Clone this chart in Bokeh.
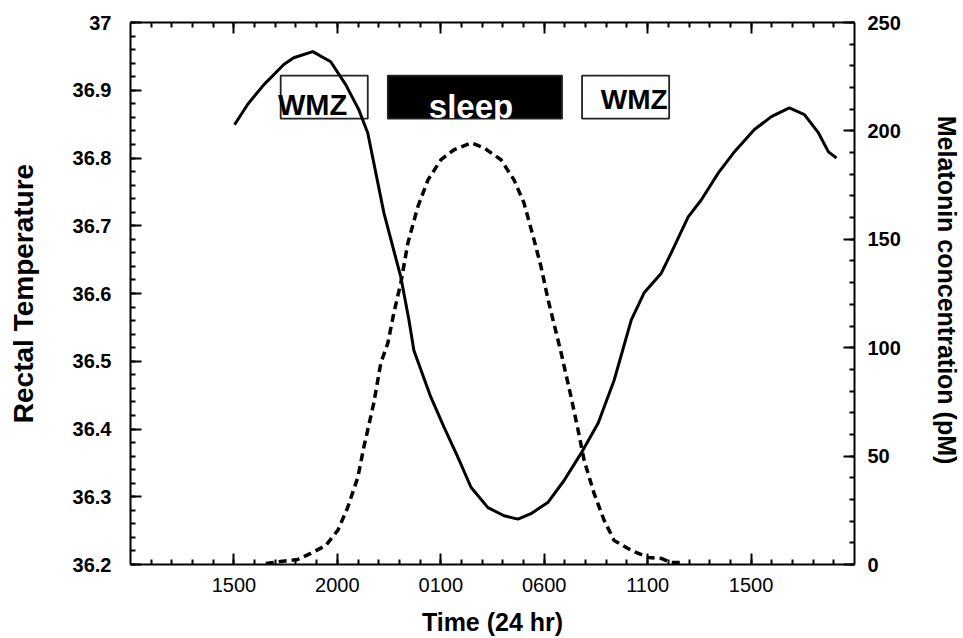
from bokeh.plotting import figure
from bokeh.models import Range1d, LinearAxis, FixedTicker, ColumnDataSource
from bokeh.core.properties import value, field
from bokeh.embed import file_html
from bokeh.resources import INLINE

# ---------------- data (hours counted from midnight of day 1) ----------------
temp_hours = [15.03, 15.66, 16.44, 17.41, 17.89, 18.81, 19.68, 20.41, 21.04, 21.47,
              22.25, 23.07, 23.46, 23.70, 24.52, 25.15, 25.83, 26.46, 27.28, 28.06,
              28.73, 29.36, 30.19, 30.96, 31.78, 32.61, 33.38, 34.21, 34.83, 35.66,
              36.14, 36.96, 37.59, 38.42, 39.19, 40.16, 40.98, 41.85, 42.58, 43.26,
              43.74, 44.13]
temp_values = [36.849, 36.879, 36.908, 36.938, 36.948, 36.957, 36.942, 36.908, 36.871, 36.837,
               36.719, 36.624, 36.561, 36.516, 36.447, 36.403, 36.358, 36.314, 36.284, 36.272,
               36.267, 36.275, 36.292, 36.324, 36.364, 36.409, 36.472, 36.561, 36.601, 36.630,
               36.660, 36.713, 36.738, 36.778, 36.809, 36.842, 36.861, 36.874, 36.864, 36.837,
               36.809, 36.800]

mel_hours = [16.54, 17.26, 18.08, 18.71, 19.44, 20.02, 20.50, 20.99, 21.28, 21.76,
             22.10, 22.44, 22.73, 23.07, 23.41, 23.89, 24.38, 25.01, 25.64, 26.46,
             27.09, 27.91, 28.54, 29.02, 29.51, 29.85, 30.19, 30.82, 31.30, 31.64,
             31.93, 32.41, 32.90, 33.38, 34.21, 35.03, 35.66, 36.14, 36.77]
mel_values = [0.5, 1.4, 2.3, 5.1, 8.8, 15.7, 26.3, 40.2, 54.1, 74.4,
              92.9, 102.1, 116.0, 129.9, 148.3, 165.0, 177.4, 186.7, 191.3, 194.5,
              192.2, 186.7, 177.4, 166.8, 149.7, 137.2, 122.0, 97.5, 77.2, 61.9,
              48.1, 32.8, 20.3, 11.1, 6.5, 3.2, 2.8, 0.9, 0.9]

x_tick_hours = [15, 20, 25, 30, 35, 40]
x_tick_labels = ["1500", "2000", "0100", "0600", "1100", "1500"]
x_minor_hours = list(range(11, 45))

temp_ticks = [36.2, 36.3, 36.4, 36.5, 36.6, 36.7, 36.8, 36.9, 37.0]
temp_tick_labels = ["36.2", "36.3", "36.4", "36.5", "36.6", "36.7", "36.8", "36.9", "37"]
temp_minor = [round(36.2 + 0.02 * i, 2) for i in range(41)]

mel_ticks = [0, 50, 100, 150, 200, 250]
mel_minor = list(range(0, 251, 10))

# zone annotations
zone_labels = ["WMZ", "sleep", "WMZ"]
zone_start = [17.26, 22.44, 31.83]
zone_end = [21.47, 30.86, 36.04]
zone_fill = ["white", "black", "white"]
zone_text_color = ["black", "white", "black"]
zone_text_x = [18.80, 26.46, 34.35]
zone_text_y = [36.878, 36.876, 36.886]
zone_text_size = ["29px", "33px", "28px"]
zone_top = 36.9216
zone_bottom = 36.858

FONT = "Liberation Sans"

p = figure(width=963, height=638,
           x_range=Range1d(10, 45), y_range=Range1d(36.2, 37.0),
           output_backend="svg", toolbar_location=None,
           min_border_left=130, min_border_right=100,
           min_border_top=22, min_border_bottom=74)
p.extra_y_ranges = {"mel": Range1d(0, 250)}
p.xgrid.visible = False
p.ygrid.visible = False
p.outline_line_color = None
p.background_fill_color = "white"


def style_axis(ax):
    ax.axis_line_color = "black"
    ax.axis_line_width = 2
    ax.major_tick_in = 11
    ax.major_tick_out = 0
    ax.minor_tick_in = 5
    ax.minor_tick_out = 0
    ax.major_tick_line_color = "black"
    ax.minor_tick_line_color = "black"
    ax.major_tick_line_width = 2
    ax.minor_tick_line_width = 2
    ax.major_label_text_font = FONT
    ax.axis_label_text_font = FONT
    ax.axis_label_text_font_style = "bold"
    ax.axis_label_text_color = "black"
    ax.major_label_text_color = "black"
    ax.axis_label_text_font_size = "25px"


# bottom axis
xa = p.xaxis[0]
style_axis(xa)
xa.ticker = FixedTicker(ticks=x_tick_hours, minor_ticks=x_minor_hours)
xa.major_label_overrides = dict(zip(x_tick_hours, x_tick_labels))
xa.major_label_text_font_size = "20px"
xa.major_label_text_font_style = "normal"
xa.major_label_standoff = 13
xa.axis_label = "Time (24 hr)"
xa.axis_label_standoff = 13

# left axis
ya = p.yaxis[0]
style_axis(ya)
ya.ticker = FixedTicker(ticks=temp_ticks, minor_ticks=temp_minor)
ya.major_label_overrides = dict(zip(temp_ticks, temp_tick_labels))
ya.major_label_text_font_size = "20px"
ya.major_label_text_font_style = "bold"
ya.major_label_standoff = 19
ya.axis_label = "Rectal Temperature"
ya.axis_label_text_font_size = "28px"
ya.axis_label_standoff = 31

# right axis
ra = LinearAxis(y_range_name="mel")
style_axis(ra)
ra.ticker = FixedTicker(ticks=mel_ticks, minor_ticks=mel_minor)
ra.major_label_text_font_size = "20px"
ra.major_label_text_font_style = "bold"
ra.major_label_standoff = 13
ra.axis_label = "Melatonin  concentration (pM)"
ra.axis_label_standoff = 29
p.add_layout(ra, "right")

# top axis (ticks only, empty labels)
ta = LinearAxis()
style_axis(ta)
ta.ticker = FixedTicker(ticks=x_tick_hours, minor_ticks=x_minor_hours)
ta.major_label_overrides = {t: "" for t in x_tick_hours}
ta.major_label_standoff = 0
ta.axis_label = None
p.add_layout(ta, "above")

# zone boxes
zsrc = ColumnDataSource(dict(left=zone_start, right=zone_end,
                             top=[zone_top] * 3, bottom=[zone_bottom] * 3,
                             fill=zone_fill))
p.quad(left="left", right="right", top="top", bottom="bottom", source=zsrc,
       fill_color="fill", line_color="#222222", line_width=1.8)

tsrc = ColumnDataSource(dict(x=zone_text_x, y=zone_text_y, text=zone_labels,
                             color=zone_text_color, size=zone_text_size))
p.text(x="x", y="y", text="text", source=tsrc, text_color="color",
       text_font=value(FONT), text_font_style="bold",
       text_font_size=field("size"), text_align="center",
       text_baseline="alphabetic")

# curves
p.line(temp_hours, temp_values, line_color="black", line_width=3)
p.line(mel_hours, mel_values, y_range_name="mel", line_color="black",
       line_width=3.5, line_dash="8 5")

open("out.html", "w").write(file_html(p, INLINE))
